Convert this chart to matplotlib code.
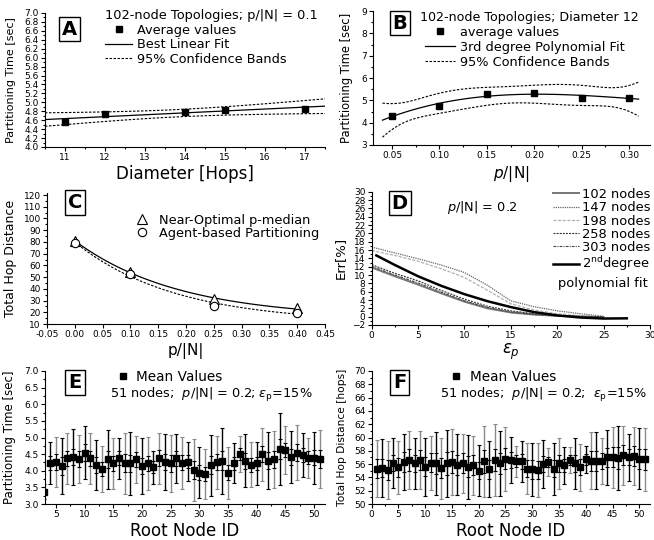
import numpy as np
import matplotlib.pyplot as plt
from matplotlib.lines import Line2D
from matplotlib.ticker import MultipleLocator, FormatStrFormatter

W, H = 654, 540

# ---- A: time vs diameter ----
diam_hops = [11, 12, 14, 15, 17]
diam_time = [4.57, 4.74, 4.78, 4.83, 4.86]

# ---- B: time vs p/|N| ----
pn_b = [0.05, 0.10, 0.15, 0.20, 0.25, 0.30]
pn_time = [4.31, 4.75, 5.27, 5.33, 5.12, 5.12]

# ---- C: hop distance vs p/|N| ----
pn_c = [0.0, 0.10, 0.25, 0.40]
hops_pmedian = [80.7, 54.6, 31.0, 23.4]
hops_agent = [79.3, 52.3, 25.6, 19.7]

# ---- D: error vs eps_p ----
eps_p = [0, 2.5, 5, 7.5, 10, 12.5, 15, 17.5, 20, 22.5, 25]
err_102 = [11.8, 9.7, 7.7, 5.6, 3.6, 2.0, 1.0, 0.5, 0.2, 0.0, -0.1]
err_147 = [16.7, 15.3, 13.9, 12.4, 10.6, 7.5, 3.8, 2.4, 1.4, 0.7, 0.1]
err_198 = [15.9, 14.7, 13.3, 11.5, 9.4, 6.3, 3.1, 1.6, 0.7, 0.2, 0.0]
err_258 = [12.5, 10.4, 8.6, 6.3, 4.2, 2.5, 1.4, 0.7, 0.3, 0.1, 0.0]
err_303 = [12.1, 10.0, 8.1, 5.9, 3.8, 2.2, 1.1, 0.5, 0.2, 0.0, -0.1]
fit_eps = [0.5, 2.5, 5, 7.5, 10, 12.5, 15, 17.5, 20, 22.5, 25, 27.5]
fit_err = [14.7, 12.4, 9.7, 7.4, 5.4, 3.7, 2.3, 1.1, 0.3, -0.2, -0.45, -0.4]

# ---- E: time per root node ----
root_e = list(range(3, 52))
mean_e = [3.37, 4.22, 4.27, 4.14, 4.37, 4.41, 4.35, 4.54, 4.37, 4.18,
          4.05, 4.34, 4.22, 4.37, 4.22, 4.22, 4.34, 4.14, 4.22, 4.10,
          4.37, 4.26, 4.22, 4.37, 4.24, 4.27, 4.02, 3.94, 3.90, 4.17,
          4.26, 4.30, 3.94, 4.22, 4.50, 4.30, 4.18, 4.22, 4.50, 4.30,
          4.34, 4.66, 4.62, 4.42, 4.54, 4.47, 4.39, 4.39, 4.35]
outer_e = [0.80, 0.63, 0.75, 0.83, 0.78, 0.85, 0.73, 0.80, 0.78, 0.75,
           0.70, 0.90, 0.76, 0.62, 0.92, 0.94, 0.72, 0.83, 0.80, 0.50,
           0.77, 0.85, 0.87, 0.75, 0.78, 0.58, 0.92, 0.77, 0.76, 0.92,
           0.80, 1.00, 0.78, 0.60, 0.54, 0.80, 0.68, 0.65, 0.80, 0.86,
           0.86, 1.08, 0.72, 0.79, 0.83, 0.67, 0.60, 0.78, 0.88]
inner_e = [0.22, 0.21, 0.24, 0.26, 0.22, 0.24, 0.23, 0.25, 0.22, 0.24,
           0.20, 0.26, 0.22, 0.21, 0.27, 0.25, 0.22, 0.24, 0.23, 0.18,
           0.24, 0.25, 0.26, 0.22, 0.23, 0.20, 0.26, 0.22, 0.22, 0.27,
           0.24, 0.28, 0.23, 0.20, 0.18, 0.24, 0.21, 0.20, 0.24, 0.25,
           0.25, 0.30, 0.22, 0.24, 0.25, 0.21, 0.20, 0.23, 0.26]

# ---- F: hop distance per root node ----
root_f = list(range(1, 52))
mean_f = [55.3, 55.4, 55.1, 56.2, 55.5, 56.3, 56.6, 56.1, 56.6, 55.6,
          56.2, 56.1, 55.4, 56.1, 56.3, 55.9, 56.1, 55.6, 55.8, 55.0,
          56.4, 55.2, 56.6, 56.1, 56.8, 56.6, 56.4, 56.4, 55.3, 55.2,
          55.1, 56.0, 56.3, 55.3, 56.1, 55.8, 56.6, 56.1, 55.5, 56.7,
          56.5, 56.5, 56.5, 57.0, 57.0, 56.9, 57.3, 57.0, 57.2, 56.8,
          56.7]
outer_f = [4.3, 4.3, 4.3, 3.8, 4.0, 4.2, 4.4, 3.9, 4.4, 4.4,
           4.1, 4.7, 4.6, 5.1, 5.0, 4.6, 4.5, 4.8, 4.5, 3.8,
           5.4, 4.2, 5.4, 4.9, 4.8, 3.5, 2.3, 3.1, 3.8, 4.0,
           4.0, 3.6, 2.1, 3.9, 3.9, 2.8, 2.0, 3.8, 3.5, 2.0,
           4.3, 4.3, 3.5, 4.2, 4.6, 4.8, 4.5, 3.6, 4.4, 4.6,
           4.7]
inner_f = [1.4, 1.3, 1.5, 1.2, 1.4, 1.5, 1.6, 1.3, 1.5, 1.4,
           1.4, 1.6, 1.5, 1.7, 1.6, 1.5, 1.5, 1.6, 1.5, 1.3,
           1.7, 1.4, 1.7, 1.6, 1.6, 1.2, 0.9, 1.1, 1.3, 1.4,
           1.4, 1.2, 0.8, 1.3, 1.3, 1.0, 0.8, 1.3, 1.2, 0.8,
           1.5, 1.5, 1.2, 1.4, 1.5, 1.6, 1.5, 1.2, 1.5, 1.5,
           1.6]

T95 = {2: 4.303, 3: 3.182}


def px_box(l, t, r, b):
    return [l / W, 1 - b / H, (r - l) / W, (b - t) / H]


def fpos(x, y):
    return (x / W, 1 - y / H)


def poly_band(x, y, deg, xs):
    x = np.asarray(x, float)
    y = np.asarray(y, float)
    X = np.vander(x, deg + 1)
    coef, *_ = np.linalg.lstsq(X, y, rcond=None)
    resid = y - X @ coef
    dof = len(x) - deg - 1
    cov = (resid @ resid / dof) * np.linalg.inv(X.T @ X)
    Xs = np.vander(xs, deg + 1)
    ys = Xs @ coef
    se = np.sqrt(np.einsum("ij,jk,ik->i", Xs, cov, Xs))
    return ys, ys - T95[dof] * se, ys + T95[dof] * se


def exp_fit(x, y, xs):
    x = np.asarray(x, float)
    y = np.asarray(y, float)
    best = None
    for k in np.linspace(0.5, 15, 400):
        X = np.column_stack([np.ones_like(x), np.exp(-k * x)])
        c, *_ = np.linalg.lstsq(X, y, rcond=None)
        sse = np.sum((y - X @ c) ** 2)
        if best is None or sse < best[0]:
            best = (sse, k, c)
    _, k, c = best
    return c[0] + c[1] * np.exp(-k * xs)


def style(ax):
    for s in ["top", "right"]:
        ax.spines[s].set_visible(False)
    ax.tick_params(which="both", direction="out", labelsize=6.5, pad=1.5, width=0.8)
    ax.tick_params(which="major", length=3)
    ax.tick_params(which="minor", length=1.6)


def letter(ax, x, y, s):
    ax.text(x, y, s, transform=ax.transAxes, ha="center", va="center",
            fontsize=14, fontweight="bold",
            bbox=dict(boxstyle="square,pad=0.15", fc="white", ec="black", lw=1))


def leg(fig, handles, labels, x, y, fs, **kw):
    opts = dict(loc="upper left", bbox_to_anchor=fpos(x, y), bbox_transform=fig.transFigure,
                frameon=False, fontsize=fs, borderpad=0, borderaxespad=0,
                handletextpad=0.4, labelspacing=0.1)
    opts.update(kw)
    return fig.legend(handles, labels, **opts)


band_ls = (0, (2.2, 1.4))
sq = dict(marker="s", color="black", ls="none", ms=3.8)

fig = plt.figure(figsize=(W / 100, H / 100), dpi=100)

# ---------------- A ----------------
axA = fig.add_axes(px_box(45, 13, 325, 147))
style(axA)
xs = np.linspace(10.5, 17.5, 100)
fit, lo, hi = poly_band(diam_hops, diam_time, 1, xs)
axA.plot(xs, fit, color="black", lw=0.9)
axA.plot(xs, lo, color="black", lw=0.8, ls=band_ls)
axA.plot(xs, hi, color="black", lw=0.8, ls=band_ls)
axA.plot(diam_hops, diam_time, **sq)
axA.set_xlim(10.5, 17.5)
axA.set_ylim(4.0, 7.0)
axA.xaxis.set_major_locator(MultipleLocator(1))
axA.xaxis.set_minor_locator(MultipleLocator(0.5))
axA.yaxis.set_major_locator(MultipleLocator(0.2))
axA.yaxis.set_minor_locator(MultipleLocator(0.1))
axA.yaxis.set_major_formatter(FormatStrFormatter("%.1f"))
axA.set_xlabel("Diameter [Hops]", fontsize=12, labelpad=2)
axA.set_ylabel("Partitioning Time [sec]", fontsize=8, labelpad=6)
letter(axA, 0.089, 0.88, "A")
fig.text(*fpos(105, 15), "102-node Topologies; p/|N| = 0.1", fontsize=9.3, va="center")
leg(fig, [Line2D([], [], **sq), Line2D([], [], color="black", lw=0.9),
          Line2D([], [], color="black", lw=0.8, ls=band_ls)],
    ["Average values", "Best Linear Fit", "95% Confidence Bands"],
    105, 24, 9.3, handlelength=2.1, labelspacing=0.1)

# ---------------- B ----------------
axB = fig.add_axes(px_box(373, 11, 650, 145))
style(axB)
xs = np.linspace(0.04, 0.31, 100)
fit, lo, hi = poly_band(pn_b, pn_time, 3, xs)
axB.plot(xs, fit, color="black", lw=0.9)
axB.plot(xs, lo, color="black", lw=0.8, ls=band_ls)
axB.plot(xs, hi, color="black", lw=0.8, ls=band_ls)
axB.plot(pn_b, pn_time, **sq)
axB.set_xlim(0.03, 0.322)
axB.set_ylim(3, 9)
axB.xaxis.set_major_locator(MultipleLocator(0.05))
axB.xaxis.set_minor_locator(MultipleLocator(0.025))
axB.xaxis.set_major_formatter(FormatStrFormatter("%.2f"))
axB.yaxis.set_major_locator(MultipleLocator(1))
axB.yaxis.set_minor_locator(MultipleLocator(0.5))
axB.set_xlabel(r"$p$/|N|", fontsize=11, labelpad=3)
axB.set_ylabel("Partitioning Time [sec]", fontsize=8.3, labelpad=6)
letter(axB, 0.097, 0.91, "B")
fig.text(*fpos(420, 17), "102-node Topologies; Diameter 12", fontsize=9.1, va="center")
leg(fig, [Line2D([], [], **sq), Line2D([], [], color="black", lw=0.9),
          Line2D([], [], color="black", lw=0.8, ls=band_ls)],
    ["average values", "3rd degree Polynomial Fit", "95% Confidence Bands"],
    425, 26, 9.3, handlelength=2.3, labelspacing=0.15)

# ---------------- C ----------------
axC = fig.add_axes(px_box(47, 192.7, 325, 324))
style(axC)
xs = np.linspace(0.0, 0.40, 100)
axC.plot(xs, exp_fit(pn_c, hops_pmedian, xs), color="black", lw=0.9)
axC.plot(xs, exp_fit(pn_c, hops_agent, xs), color="black", lw=0.8, ls=band_ls)
tri = dict(marker="^", mfc="white", mec="black", ls="none", ms=6.5, mew=0.8)
circ = dict(marker="o", mfc="white", mec="black", ls="none", ms=6, mew=0.8)
axC.plot(pn_c, hops_pmedian, **tri)
axC.plot(pn_c, hops_agent, **circ)
axC.set_xlim(-0.05, 0.45)
axC.set_ylim(10, 122)
axC.xaxis.set_major_locator(MultipleLocator(0.05))
axC.xaxis.set_major_formatter(FormatStrFormatter("%.2f"))
axC.yaxis.set_major_locator(MultipleLocator(10))
axC.yaxis.set_minor_locator(MultipleLocator(5))
axC.set_xlabel("p/|N|", fontsize=11, labelpad=3)
axC.set_ylabel("Total Hop Distance", fontsize=9, labelpad=5)
letter(axC, 0.10, 0.925, "C")
leg(fig, [Line2D([], [], **tri), Line2D([], [], **circ)],
    ["Near-Optimal p-median", "Agent-based Partitioning"],
    136, 214, 9.3, handlelength=1.0, handletextpad=0.8, labelspacing=0.0)

# ---------------- D ----------------
axD = fig.add_axes(px_box(371.7, 191.7, 650, 325))
style(axD)
d_series = [
    (err_102, "102 nodes", dict(color="#777777", lw=1.4, ls="-")),
    (err_147, "147 nodes", dict(color="#666666", lw=0.9, ls=(0, (1, 0.8)))),
    (err_198, "198 nodes", dict(color="#b0b0b0", lw=0.9, ls=(0, (2.5, 1.2)))),
    (err_258, "258 nodes", dict(color="#333333", lw=0.8, ls=(0, (1.8, 1.0)))),
    (err_303, "303 nodes", dict(color="#444444", lw=0.8, ls=(0, (2.5, 1, 1, 1)))),
]
handles = []
labels = []
for vals, lab, st in d_series:
    h, = axD.plot(eps_p, vals, **st)
    handles.append(h)
    labels.append(lab)
h, = axD.plot(fit_eps, fit_err, color="black", lw=1.8)
handles.append(h)
labels.append(r"2$^{\rm nd}$degree")
axD.set_xlim(0, 30)
axD.set_ylim(-2, 30)
axD.xaxis.set_major_locator(MultipleLocator(5))
axD.xaxis.set_minor_locator(MultipleLocator(2.5))
axD.yaxis.set_major_locator(MultipleLocator(2))
axD.yaxis.set_minor_locator(MultipleLocator(1))
axD.set_xlabel(r"$\varepsilon_p$", fontsize=12, labelpad=1)
axD.set_ylabel("Err[%]", fontsize=9.5, labelpad=4)
letter(axD, 0.10, 0.915, "D")
axD.text(*fpos(447, 207), r"$p$/|N| = 0.2", transform=fig.transFigure, fontsize=9.3, va="center")
leg(fig, handles, labels, 553, 188, 9.4, handlelength=2.0, handletextpad=0.25, labelspacing=0.02)
fig.text(*fpos(558, 283), "polynomial fit", fontsize=9.4, va="center")


# ---------------- E / F ----------------
def mean_panel(ax, ids, means, outer, inner):
    ids = np.asarray(ids)
    means = np.asarray(means)
    outer = np.asarray(outer)
    inner = np.asarray(inner)
    for k, col in enumerate(["#8a8a8a", "black"]):
        sel = np.arange(len(ids)) % 2 == k
        ax.errorbar(ids[sel], means[sel], yerr=outer[sel], fmt="none", ecolor=col,
                    elinewidth=1.0, capsize=1.3, capthick=0.8)
    ax.errorbar(ids, means, yerr=inner, fmt="none", ecolor="black",
                elinewidth=0.8, capsize=1.5, capthick=0.8)
    ax.plot(ids, means, zorder=5, **sq)


axE = fig.add_axes(px_box(45, 371, 325, 504))
style(axE)
mean_panel(axE, root_e, mean_e, outer_e, inner_e)
axE.set_xlim(3.1, 51.9)
axE.set_ylim(3.0, 7.0)
axE.xaxis.set_major_locator(MultipleLocator(5))
axE.xaxis.set_minor_locator(MultipleLocator(2.5))
axE.yaxis.set_major_locator(MultipleLocator(0.5))
axE.yaxis.set_minor_locator(MultipleLocator(0.25))
axE.yaxis.set_major_formatter(FormatStrFormatter("%.1f"))
axE.set_xlabel("Root Node ID", fontsize=12, labelpad=2)
axE.set_ylabel("Partitioning Time [sec]", fontsize=8.5, labelpad=6)
letter(axE, 0.107, 0.914, "E")
leg(fig, [Line2D([], [], **sq)], ["Mean Values"], 118, 370, 9.8,
    handlelength=0.8, handletextpad=0.5)
fig.text(*fpos(110, 395), r"51 nodes;  $p$/|N| = 0.2; $\varepsilon_{\rm p}$=15%",
         fontsize=9.3, va="center")

axF = fig.add_axes(px_box(371.7, 371, 650, 504))
style(axF)
mean_panel(axF, root_f, mean_f, outer_f, inner_f)
axF.set_xlim(0, 52)
axF.set_ylim(50, 70)
axF.xaxis.set_major_locator(MultipleLocator(5))
axF.xaxis.set_minor_locator(MultipleLocator(2.5))
axF.yaxis.set_major_locator(MultipleLocator(2))
axF.yaxis.set_minor_locator(MultipleLocator(1))
axF.set_xlabel("Root Node ID", fontsize=12, labelpad=2)
axF.set_ylabel("Total Hop Distance [hops]", fontsize=7.7, labelpad=5)
letter(axF, 0.10, 0.914, "F")
leg(fig, [Line2D([], [], **sq)], ["Mean Values"], 451, 370, 9.8,
    handlelength=0.8, handletextpad=0.6)
fig.text(*fpos(440, 395), r"51 nodes;  $p$/|N| = 0.2;  $\varepsilon_{\rm p}$=15%",
         fontsize=9.3, va="center")

fig.savefig("out.png", dpi=100)
